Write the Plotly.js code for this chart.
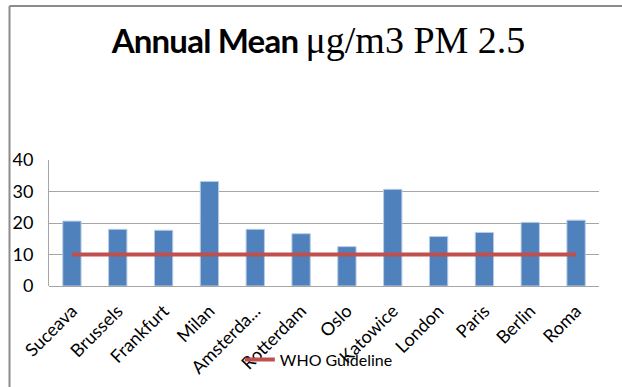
<!DOCTYPE html>
<html>
<head>
<meta charset="utf-8">
<script src="https://cdn.plot.ly/plotly-3.0.1.min.js"></script>
<style>html,body{margin:0;padding:0;background:#fff;}#chart{width:622px;height:387px;}</style>
</head>
<body>
<div id="chart"></div>
<script>
const cities = ["Suceava","Brussels","Frankfurt","Milan","Amsterda...","Rotterdam","Oslo","Katowice","London","Paris","Berlin","Roma"];
const pm25 = [20.6, 18.0, 17.7, 33.2, 18.0, 16.6, 12.5, 30.7, 15.7, 17.0, 20.2, 20.9];
const whoGuideline = [10,10,10,10,10,10,10,10,10,10,10,10];
const yTicks = [0, 10, 20, 30, 40];

const traces = [
  {
    type: "bar", x: cities, y: pm25, name: "PM 2.5", showlegend: false,
    marker: {color: "#4F81BD", line: {color: "#B9CDE5", width: 1}}
  },
  {
    type: "scatter", mode: "lines", x: cities, y: whoGuideline, name: "WHO Guideline",
    line: {color: "#C0504D", width: 4}
  }
];

const layout = {
  width: 622, height: 387,
  margin: {l: 49, r: 23, t: 160, b: 101, autoexpand: false},
  paper_bgcolor: "#ffffff", plot_bgcolor: "#ffffff",
  bargap: 0.6,
  title: {
    text: "<span style='font-family:Lato;font-weight:bold;font-size:33px;letter-spacing:-0.8px'>Annual Mean </span><span style='font-family:\"Liberation Serif\";font-size:38px'>μg/m3 PM 2.5</span>",
    font: {size: 36, color: "#000"},
    x: 0.49, xref: "paper", xanchor: "center",
    y: 0.895, yref: "container", yanchor: "middle", automargin: false
  },
  xaxis: {
    type: "category", tickangle: -45, showgrid: false, automargin: false,
    showline: false, ticks: "", ticklabelstandoff: 10,
    tickfont: {family: "Lato", size: 18, color: "#000"}
  },
  yaxis: {
    range: [0, 40], tickvals: yTicks, ticktext: yTicks.map(String), automargin: false,
    showgrid: true, gridcolor: "#A6A6A6", gridwidth: 1,
    zeroline: true, zerolinecolor: "#A6A6A6", zerolinewidth: 1,
    showline: true, linecolor: "#A6A6A6", linewidth: 1,
    ticks: "", ticklen: 0, ticklabelstandoff: 11,
    tickfont: {family: "Lato", size: 18, color: "#000"}
  },
  showlegend: true,
  legend: {
    orientation: "h", x: 0.347, y: -0.45, xanchor: "left", yanchor: "top",
    bgcolor: "rgba(0,0,0,0)", font: {family: "Lato", size: 16, color: "#000"}
  },
  shapes: [
    {type: "line", xref: "paper", yref: "paper", x0: -0.0718, x1: 1.05, y0: 2.222, y1: 2.222, line: {color: "#8C8C8C", width: 2}},
    {type: "line", xref: "paper", yref: "paper", x0: -0.0718, x1: -0.0718, y0: 2.222, y1: -0.85, line: {color: "#8C8C8C", width: 2}}
  ]
};

Plotly.newPlot("chart", traces, layout, {displayModeBar: false, staticPlot: true});
</script>
</body>
</html>
